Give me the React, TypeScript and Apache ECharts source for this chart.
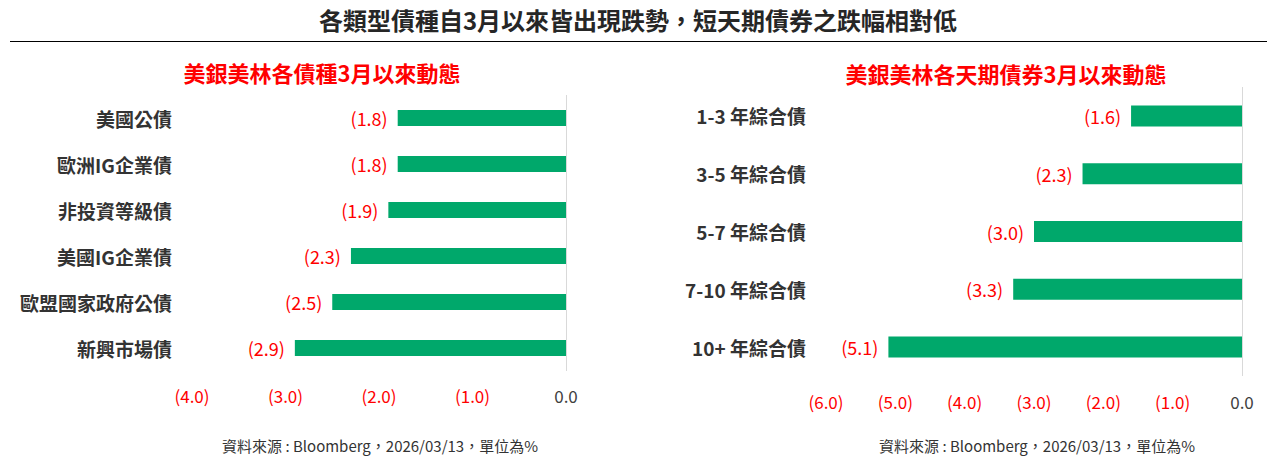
import React, { useEffect, useRef } from "react";
import * as echarts from "echarts";

const mainTitle = "各類型債種自3月以來皆出現跌勢，短天期債券之跌幅相對低";
const leftTitle = "美銀美林各債種3月以來動態";
const rightTitle = "美銀美林各天期債券3月以來動態";
const sourceNote = "資料來源 : Bloomberg，2026/03/13，單位為%";

const leftCategories = ["美國公債", "歐洲IG企業債", "非投資等級債", "美國IG企業債", "歐盟國家政府公債", "新興市場債"];
const leftValues = [-1.8, -1.8, -1.9, -2.3, -2.5, -2.9];

const rightCategories = ["1-3 年綜合債", "3-5 年綜合債", "5-7 年綜合債", "7-10 年綜合債", "10+ 年綜合債"];
const rightValues = [-1.6, -2.3, -3.0, -3.3, -5.1];

const FONT = "'Microsoft JhengHei', 'Noto Sans CJK TC', 'Noto Sans', sans-serif";
const GREEN = "#00A86B";
const RED = "#FF0000";

const fmtAxis = (v: number) =>
  v < 0 ? "{neg|(" + Math.abs(v).toFixed(1) + ")}" : "{pos|" + v.toFixed(1) + "}";
const fmtLabel = (p: any) => "(" + Math.abs(p.value).toFixed(1) + ")";

export default function App() {
  const ref = useRef<HTMLDivElement>(null);
  useEffect(() => {
    document.body.style.margin = "0";
    const chart = echarts.init(ref.current!, null, { renderer: "svg" });
    const xAxisCommon = (gridIndex: number, min: number, margin: number) => ({
      type: "value",
      gridIndex,
      min,
      max: 0,
      interval: 1,
      axisLine: { show: false },
      axisTick: { show: false },
      splitLine: { show: false },
      axisLabel: {
        formatter: fmtAxis,
        margin,
        rich: {
          neg: { color: RED, fontSize: 17, fontFamily: FONT },
          pos: { color: "#404040", fontSize: 17, fontFamily: FONT },
        },
      },
    });
    const yAxisCommon = (gridIndex: number, data: string[]) => ({
      type: "category",
      gridIndex,
      data,
      inverse: true,
      axisLine: { show: false },
      axisTick: { show: false },
      axisLabel: {
        margin: 20,
        color: "#333333",
        fontSize: 19,
        fontWeight: "bold",
        fontFamily: FONT,
      },
    });
    const seriesCommon = (idx: number, data: number[], barWidth: number) => ({
      type: "bar",
      xAxisIndex: idx,
      yAxisIndex: idx,
      data,
      barWidth,
      itemStyle: { color: GREEN },
      label: {
        show: true,
        position: "left",
        distance: 10,
        color: RED,
        fontSize: 18,
        fontFamily: FONT,
        formatter: fmtLabel,
      },
      markLine: {
        silent: true,
        symbol: "none",
        label: { show: false },
        lineStyle: { color: "#d9d9d9", width: 1, type: "solid" },
        data: [{ xAxis: 0 }],
      },
    });
    const t = (text: string, left: number, top: number, color: string, fontSize: number, fontWeight: string) => ({
      text,
      left,
      top,
      padding: 0,
      textAlign: "center",
      textStyle: { color, fontSize, fontWeight, fontFamily: FONT },
    });
    chart.setOption({
      animation: false,
      backgroundColor: "#ffffff",
      title: [
        t(mainTitle, 638, 7, "#262626", 24, "bold"),
        t(leftTitle, 322, 61, RED, 22, "bold"),
        t(rightTitle, 1006, 62, RED, 22, "bold"),
        t(sourceNote, 380, 438, "#333333", 15, "normal"),
        t(sourceNote, 1037, 438, "#333333", 15, "normal"),
      ],
      graphic: [
        {
          type: "line",
          shape: { x1: 10, y1: 41.5, x2: 1267, y2: 41.5 },
          style: { stroke: "#000000", lineWidth: 1 },
        },
      ],
      grid: [
        { left: 192, right: 1271 - 566, top: 95, height: 276 },
        { left: 826, right: 1271 - 1242, top: 87, height: 289 },
      ],
      xAxis: [xAxisCommon(0, -4, 16), xAxisCommon(1, -6, 17)],
      yAxis: [yAxisCommon(0, leftCategories), yAxisCommon(1, rightCategories)],
      series: [seriesCommon(0, leftValues, 16), seriesCommon(1, rightValues, 21)],
    });
    return () => chart.dispose();
  }, []);
  return <div ref={ref} style={{ width: 1271, height: 458 }} />;
}
